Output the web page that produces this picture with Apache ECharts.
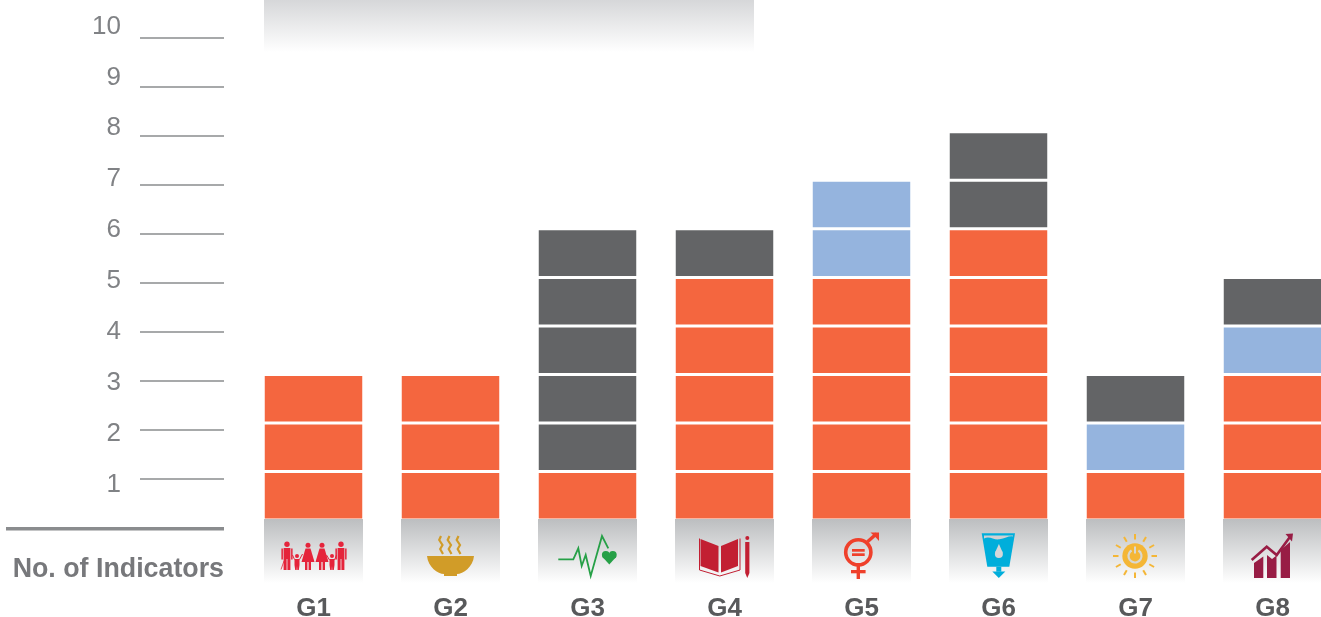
<!DOCTYPE html>
<html><head><meta charset="utf-8">
<style>html,body{margin:0;padding:0;background:#fff;overflow:hidden}#c{width:1321px;height:617px}</style>
<script src="https://cdn.jsdelivr.net/npm/echarts@6/dist/echarts.min.js"></script>
</head><body><div id="c"></div>
<script>
const categories = ['G1','G2','G3','G4','G5','G6','G7','G8'];
const orangeCounts = [3,3,1,5,5,6,1,3];
const blueCounts   = [0,0,0,0,2,0,1,1];
const grayCounts   = [0,0,5,1,0,2,1,1];
const tickValues = [1,2,3,4,5,6,7,8,9,10];
const axisTitle = 'No. of Indicators';

const ORANGE='#f4663f', BLUE='#95b4de', GRAY='#636466', AXIS='#8a8c8e', LABEL='#808285', FONT='"Liberation Sans", Arial, sans-serif';

/* ---- icon primitives: offsets from the panel's top-centre ---- */
const poly=(points,fill)=>({type:'polygon',shape:{points},style:{fill}});
const pl=(points,stroke,w)=>({type:'polyline',shape:{points},style:{fill:null,stroke,lineWidth:w,lineJoin:'miter'}});
const circ=(cx,cy,r,fill)=>({type:'circle',shape:{cx,cy,r},style:{fill}});
const ring=(cx,cy,r,stroke,w)=>({type:'circle',shape:{cx,cy,r},style:{fill:null,stroke,lineWidth:w}});
const rc=(x,y,width,height,fill)=>({type:'rect',shape:{x,y,width,height},style:{fill}});

function man(d,c){return [circ(d,25.3,2.7,c),rc(d-3.4,29,6.8,11,c),rc(d-3.4,40,3,11,c),rc(d+.4,40,3,11,c),rc(d-5.6,29.5,1.5,11,c),rc(d+4.1,29.5,1.5,11,c)];}
function woman(d,c){return [circ(d,26.2,2.5,c),poly([[d-2.5,29.5],[d+2.5,29.5],[d+6.5,43],[d-6.5,43]],c),rc(d-3,43,2.4,8,c),rc(d+.6,43,2.4,8,c)];}
function child(d,c){return [circ(d,37,2,c),poly([[d-2.5,40],[d+2.5,40],[d+2.5,46],[d+1.8,51],[d+.3,51],[d,47],[d-.3,51],[d-1.8,51],[d-2.5,46]],c)];}
const icons = [
 ()=>{const c='#e5243b';return [...man(-26.5,c),...child(-16.5,c),...woman(-5.5,c),...woman(8.5,c),...child(18.5,c),...man(27.5,c),
   pl([[-29.5,42],[-32.5,50.5]],c,.8),pl([[-21,36],[-19,40.5]],c,1),pl([[-14,40.5],[-11,35]],c,1),pl([[13,36],[16,41]],c,1),pl([[21,41],[23,36]],c,1)];},
 ()=>{const c='#d19c28';const s=d=>pl([[d,17],[d-1.8,21],[d+1.5,26],[d-.8,30],[d+2,35]],c,2.2);
   return [s(-9.5),s(-1),s(8),{type:'path',shape:{pathData:'M0 0 L47 0 C46 11 36 18 30 18 L30 20 L17 20 L17 18 C11 18 1 11 0 0 Z',x:-23.5,y:37,width:47,height:20},style:{fill:c}}];},
 ()=>{const c='#26a047';return [pl([[-29.2,40.3],[-14.2,40.3],[-9.2,29.3],[-5.8,47],[-1.8,36],[3.2,57],[14.5,17],[20.8,29.3]],c,1.8),
   circ(18.3,35.8,3.9,c),circ(25.3,35.8,3.9,c),poly([[14.8,37.8],[21.8,45.5],[28.8,37.8],[21.8,35]],c)];},
 ()=>{const c='#c21f32';return [poly([[-24,20],[-6,27],[-6,53.5],[-24,47]],c),poly([[-3.5,27],[13.5,20],[13.5,47],[-3.5,53.5]],c),
   pl([[-25,19.5],[-25,51],[-4.7,57],[15.5,51],[15.5,19.5]],c,1),rc(20.7,23,4.2,31,c),circ(22.8,19,2,c),poly([[20.7,54],[24.9,54],[22.8,59]],c)];},
 ()=>{const c='#ef402b';return [ring(-3.2,33.3,12.6,c,3.6),rc(-9.5,30,12.7,2.7,c),rc(-9.5,34.3,12.7,2.7,c),rc(-4.9,47,3.4,13,c),rc(-10.5,51,14.6,3.3,c),
   pl([[6,22.7],[15,14.8]],c,3.4),poly([[9,13.5],[17.5,13.5],[17.5,22],[14.3,18.5]],c)];},
 ()=>{const c='#00aedb';return [poly([[-16.8,14.3],[16.5,14.3],[10.8,47.7],[-11.2,47.7]],c),
   {type:'path',shape:{pathData:'M0 3 C6 0 10 5 16 4 C22 3 26 0 30 1 L30 0 L0 0 Z',x:-14.5,y:16,width:29,height:5},style:{fill:'#cfd1d3'}},
   circ(0.4,35,4,'#d5d7d9'),poly([[.4,25],[-3.4,33.5],[4.2,33.5]],'#d5d7d9'),
   rc(-2.2,47.7,5,5,c),poly([[-6.2,52.5],[6.8,52.5],[.3,59]],c)];},
 ()=>{const c='#f4b636',g='#d8d8d2',cx=-.5,cy=37;const rays=[];
   for(let i=0;i<12;i++){const a=i*Math.PI/6;rays.push({type:'line',shape:{x1:cx+Math.cos(a)*16.5,y1:cy+Math.sin(a)*16.5,x2:cx+Math.cos(a)*22,y2:cy+Math.sin(a)*22},style:{stroke:c,lineWidth:2}});}
   return [...rays,circ(cx,cy,12.7,c),{type:'arc',shape:{cx,cy,r:6.5,startAngle:-Math.PI/2+.55,endAngle:-Math.PI/2-.55,clockwise:true},style:{fill:null,stroke:g,lineWidth:2.2}},rc(cx-1,cy-9.5,2,7,g)];},
 ()=>{const c='#981d45';return [poly([[-18.5,44],[-9.2,37.5],[-9.2,59],[-18.5,59]],c),poly([[-5.5,36],[-0.5,40],[4,36.5],[4,59],[-5.5,59]],c),poly([[8.2,31],[17.5,23],[17.5,59],[8.2,59]],c),
   pl([[-20.8,41],[-5.8,27.7],[4.2,36],[17,18.5]],c,2.6),poly([[13,15],[20.5,14.5],[19.5,22.5]],c)];}
];

function renderPanel(params,api){
  const i=api.value(0), p=api.coord([i,0]);
  return {type:'group',x:p[0],y:p[1]-1,children:[
    {type:'rect',shape:{x:-49.5,y:0,width:99,height:64},style:{fill:new echarts.graphic.LinearGradient(0,0,0,1,[{offset:0,color:'#bcbec0'},{offset:1,color:'#ffffff'}])}},
    ...icons[i]()
  ]};
}

const levelCount=8;
const levels=[];
for(let k=0;k<levelCount;k++){
  levels.push({type:'bar',xAxisIndex:2,yAxisIndex:2,stack:'units',barWidth:100.5,silent:true,z:2,
    data:categories.map((_,i)=>{
      const o=orangeCounts[i],b=blueCounts[i],g=grayCounts[i];
      const col=k<o?ORANGE:k<o+b?BLUE:k<o+b+g?GRAY:null;
      return col?{value:1,itemStyle:{color:col,borderColor:'#fff',borderWidth:1.5}}:null;
    })});
}

const chart=echarts.init(document.getElementById('c'),null,{renderer:'canvas'});
chart.setOption({
  animation:false,
  backgroundColor:'#fff',
  grid:[
    {left:140,width:84,top:38,height:490},
    {left:131,width:84,top:26.5,height:509},
    {left:245,width:1096,top:131.8,height:388.2,outerBoundsMode:'none'}
  ],
  xAxis:[
    {gridIndex:0,type:'value',show:false,min:0,max:1},
    {gridIndex:1,type:'value',show:false,min:0,max:1},
    {gridIndex:2,type:'category',data:categories,axisLine:{show:false},axisTick:{show:false},
     axisLabel:{margin:75.5,color:'#58595b',fontFamily:FONT,fontWeight:'bold',fontSize:26,interval:0}}
  ],
  yAxis:[
    {gridIndex:0,type:'value',min:0,max:10,interval:1,axisLine:{show:false},axisTick:{show:false},axisLabel:{show:false},
     splitLine:{show:true,showMinLine:false,lineStyle:{color:AXIS,width:1.5}}},
    {gridIndex:1,type:'value',min:0,max:10,interval:1,axisLine:{show:false},axisTick:{show:false},splitLine:{show:false},
     axisLabel:{margin:10,color:LABEL,fontFamily:FONT,fontSize:26,
       formatter:v=>tickValues.includes(v)?String(v):''}},
    {gridIndex:2,type:'value',show:false,min:0,max:8}
  ],
  graphic:[
    {type:'rect',silent:true,z:0,shape:{x:264,y:0,width:490,height:52},style:{fill:new echarts.graphic.LinearGradient(0,0,0,1,[{offset:0,color:'#d6d7d9'},{offset:1,color:'#ffffff'}])}},
    {type:'rect',silent:true,z:5,shape:{x:6,y:527,width:218,height:3.5},style:{fill:AXIS}},
    {type:'text',silent:true,z:5,x:224,y:569,scaleX:.94,style:{text:axisTitle,x:0,y:0,align:'right',verticalAlign:'middle',fill:'#77787b',font:'bold 28.5px '+FONT}}
  ],
  series:[...levels,
    {type:'custom',xAxisIndex:2,yAxisIndex:2,z:3,silent:true,clip:false,encode:{x:0,y:1},
     data:categories.map((_,i)=>[i,0]),renderItem:renderPanel}
  ]
});
</script></body></html>
